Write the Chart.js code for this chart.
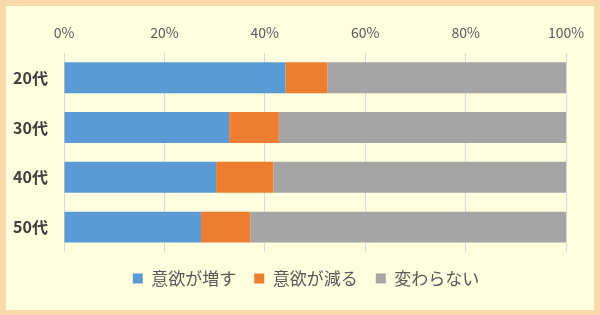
<!DOCTYPE html>
<html>
<head>
<meta charset="utf-8">
<script src="https://cdn.jsdelivr.net/npm/chart.js@4"></script>
<style>
  html, body { margin: 0; padding: 0; }
  body { width: 600px; height: 315px; background: #F9D8AC; position: relative; overflow: hidden; }
  #panel { position: absolute; left: 6px; top: 6px; width: 588px; height: 304px; background: #FFFEDF; }
</style>
</head>
<body>
<div id="panel"><canvas id="ikuji_iyoku" width="588" height="304"></canvas></div>
<script>
// 年代
const nendai = ['20代', '30代', '40代', '50代'];
const series_names = ['意欲が増す', '意欲が減る', '変わらない'];
// 割合(%)
const iyoku_fueru = [44.1, 32.9, 30.3, 27.3];
const iyoku_heru = [8.4, 9.9, 11.4, 9.8];
const kawaranai = [47.5, 57.2, 58.3, 62.9];
const tick_labels = ['0%', '20%', '40%', '60%', '80%', '100%'];

Chart.defaults.font.family = "'Noto Sans CJK JP', 'Noto Sans', sans-serif";

const ikuji_iyoku = document.getElementById('ikuji_iyoku');

// 凡例を少し右へ寄せる
const legendShift = {
  id: 'legendShift',
  afterLayout(chart) {
    chart.legend.left += 20;
    chart.legend.right += 20;
  }
};

new Chart(ikuji_iyoku, {
  type: 'bar',
  data: {
    labels: nendai,
    datasets: [
      { label: series_names[0], data: iyoku_fueru, backgroundColor: '#5B9BD5' },
      { label: series_names[1], data: iyoku_heru, backgroundColor: '#ED7D31' },
      { label: series_names[2], data: kawaranai, backgroundColor: '#A5A5A5' }
    ]
  },
  options: {
    indexAxis: 'y',
    responsive: false,
    animation: false,
    categoryPercentage: 1,
    barPercentage: 0.62,
    layout: { padding: { left: 0, right: 28, top: 6, bottom: 13 } },
    scales: {
      x: {
        position: 'top',
        stacked: true,
        min: 0,
        max: 100,
        afterFit: (scale) => { scale.paddingRight = 0; },
        ticks: {
          stepSize: 20,
          padding: 12,
          color: '#595959',
          font: { size: 14 },
          callback: (v, i) => tick_labels[i]
        },
        grid: { color: '#D9D9D9', drawTicks: false },
        border: { display: false }
      },
      y: {
        stacked: true,
        afterFit: (scale) => { scale.width = 58; },
        ticks: {
          padding: 16,
          color: '#404040',
          font: { size: 16, weight: 'bold' }
        },
        grid: { display: false, drawTicks: false },
        border: { display: false }
      }
    },
    plugins: {
      legend: {
        position: 'bottom',
        labels: {
          boxWidth: 10,
          boxHeight: 10,
          padding: 18,
          color: '#595959',
          font: { size: 17 }
        }
      },
      tooltip: { enabled: false }
    }
  },
  plugins: [legendShift]
});
</script>
</body>
</html>
